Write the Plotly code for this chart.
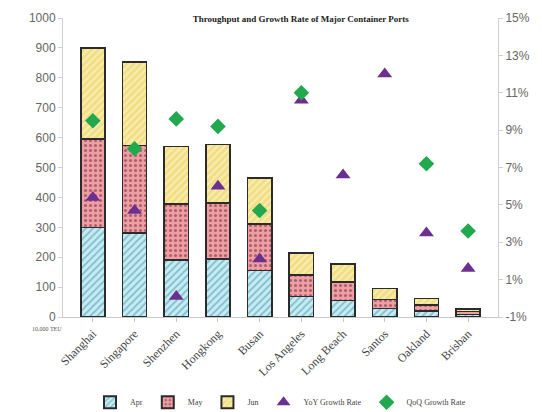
import plotly.graph_objects as go

ports = ["Shanghai", "Singapore", "Shenzhen", "Hongkong", "Busan", "Los Angeles",
         "Long Beach", "Santos", "Oakland", "Brisban"]
# Monthly throughput (10,000 TEU), stacked per port
apr = [300, 280, 190, 194, 155, 68, 55, 29, 20, 9]
may = [295, 293, 187, 188, 156, 72, 63, 30, 20, 9]
jun = [305, 280, 193, 195, 153, 75, 59, 36, 22, 9]
# Growth rates (%)
yoy = [5.4, 4.7, 0.1, 6.0, 2.1, 10.6, 6.6, 12.0, 3.5, 1.6]
qoq = [9.5, 8.0, 9.6, 9.2, 4.7, 11.0, None, None, 7.2, 3.6]

left_ticks = list(range(0, 1001, 100))
right_ticks = list(range(-1, 16, 2))
right_labels = [f"{v}%" for v in right_ticks]

tick_font = dict(family="Liberation Sans Narrow, Liberation Sans", size=12, color="#666")
line = dict(color="#2b2b2b", width=1.6)
fig = go.Figure()
fig.add_trace(go.Bar(
    x=ports, y=apr, name="Apr", width=0.58,
    marker=dict(color="#a9dde9", line=line,
                pattern=dict(shape="/", fgcolor="#3d8fa6", bgcolor="#c6ecf3", size=5, solidity=0.35)),
))
fig.add_trace(go.Bar(
    x=ports, y=may, name="May", width=0.58,
    marker=dict(color="#e59aa0", line=line,
                pattern=dict(shape=".", fgcolor="#6b1f2a", bgcolor="#ee9fa6", size=5, solidity=0.3)),
))
fig.add_trace(go.Bar(
    x=ports, y=jun, name="Jun", width=0.58,
    marker=dict(color="#f6e7a0", line=line,
                pattern=dict(shape="/", fgcolor="#fffbe6", bgcolor="#f2df84", size=5, solidity=0.4)),
))
fig.add_trace(go.Scatter(
    x=ports, y=yoy, name="YoY Growth Rate", mode="markers", yaxis="y2",
    marker=dict(symbol="triangle-up", size=13, color="#6b2f8f"),
))
fig.add_trace(go.Scatter(
    x=ports, y=qoq, name="QoQ Growth Rate", mode="markers", yaxis="y2",
    marker=dict(symbol="diamond", size=12, color="#22a84f"),
))

fig.update_layout(
    width=542, height=412,
    margin=dict(l=63, r=44, t=18, b=95, autoexpand=False),
    paper_bgcolor="white", plot_bgcolor="white",
    barmode="stack", bargap=0.42,
    showlegend=True,
    legend=dict(orientation="h", x=0.5, xanchor="center", y=-0.285, yanchor="middle",
                traceorder="normal",
                font=dict(family="Liberation Serif", size=8, color="#444"),
                itemwidth=30, itemsizing="constant"),
    title=dict(text="<b>Throughput and Growth Rate of Major Container Ports</b>",
               x=0.555, xanchor="center", y=0.955, yanchor="middle",
               font=dict(family="Liberation Serif", size=9, color="#222")),
    xaxis=dict(showline=True, linecolor="#c8c8c8", ticks="outside", tickcolor="#c8c8c8",
               ticklen=4, tickangle=-45, automargin=False,
               tickfont=dict(family="Liberation Serif", size=12, color="#444")),
    yaxis=dict(range=[0, 1000], tickvals=left_ticks, showgrid=False, zeroline=False,
               automargin=False,
               showline=True, linecolor="#d0d0d0", ticks="outside", tickcolor="#d0d0d0",
               ticklen=4, tickfont=tick_font),
    yaxis2=dict(range=[-1, 15], tickvals=right_ticks, ticktext=right_labels, overlaying="y",
                side="right", showgrid=False, zeroline=False, automargin=False,
                showline=True, linecolor="#d0d0d0", ticks="outside", tickcolor="#d0d0d0",
                ticklen=4, tickfont=tick_font),
)
fig.add_annotation(text="10,000 TEU", xref="paper", yref="paper", x=-0.075, y=-0.058,
                   showarrow=False, font=dict(family="Liberation Serif", size=6, color="#555"))

fig.write_html("out.html")
